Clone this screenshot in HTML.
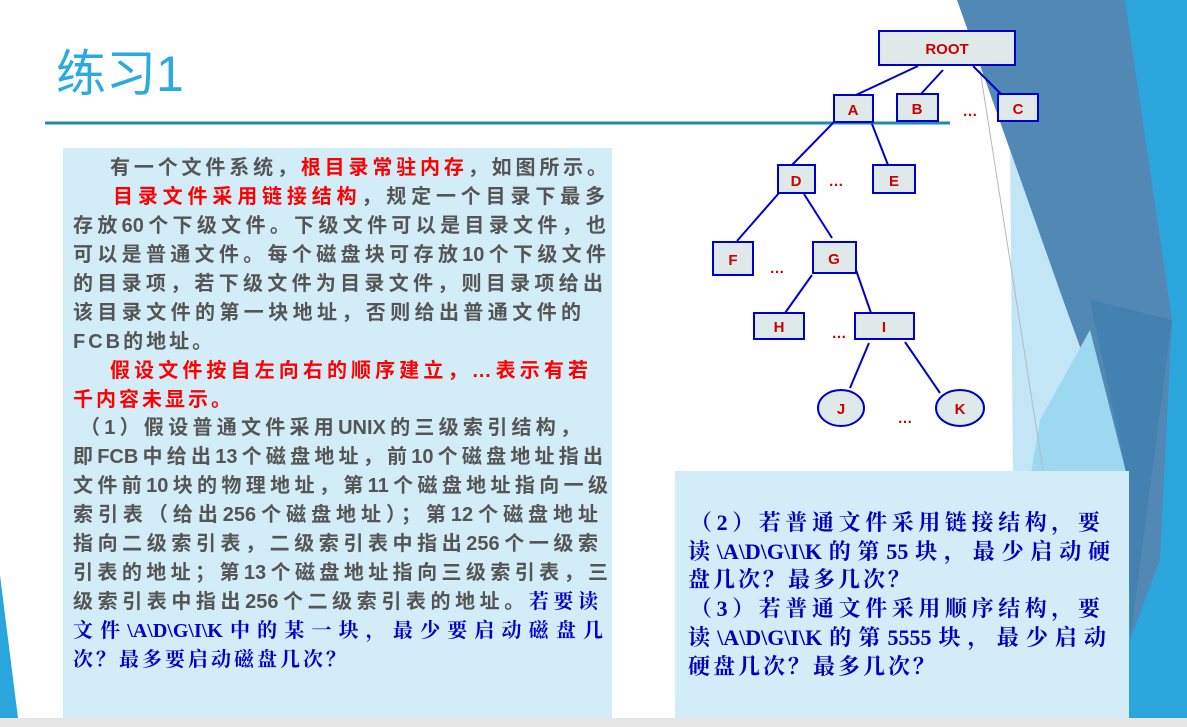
<!DOCTYPE html>
<html><head><meta charset="utf-8"><style>
body{margin:0;width:1187px;height:727px;overflow:hidden;background:#fff;position:relative;font-family:"Liberation Sans","Noto Sans CJK SC",sans-serif}
.abs{position:absolute}
.box{position:absolute;background:#d2edf8}
.ln{position:absolute;white-space:nowrap;font-size:20px;font-weight:bold;color:#555;height:29px;line-height:29px;letter-spacing:3px}
.j{text-align:justify;text-align-last:justify;letter-spacing:0}
.r{color:#f00}
.b{color:#0000d0;font-family:"Liberation Serif","Noto Serif CJK SC",serif}
.rb{position:absolute;white-space:nowrap;font-size:22px;font-weight:bold;color:#0000c0;font-family:"Liberation Serif","Noto Serif CJK SC",serif;line-height:29px;height:29px;text-align:justify;text-align-last:justify}
.nl{text-align-last:left;letter-spacing:3px}
</style></head><body>
<svg class="abs" style="left:0;top:0" width="1187" height="727">
<polygon points="1118,0 1187,0 1187,727 1129,727" fill="#2ba6dd"/>
<polygon points="957,0 1125,0 1172,320 1160,560 1130,640 1128,480 1063,300 1010,150" fill="#5188b4"/>
<polygon points="1090,300 1172,320 1130,640 1128,480" fill="#4381b0"/>
<polygon points="1010,150 1063,300 1128,480 1013,480" fill="#c3e6f6"/>
<polygon points="1040,420 1090,330 1128,480 1030,480" fill="#9dd8f1"/>
<line x1="980" y1="70" x2="1043" y2="470" stroke="#b8b8b8" stroke-width="1"/>
<polygon points="0,575 18,718 0,718" fill="#2ba6dd"/>
<rect x="0" y="718" width="1187" height="9" fill="#e6e6e6"/>
<line x1="45" y1="123" x2="950" y2="123" stroke="#1e88b8" stroke-width="3"/>
<g stroke="#0000cc" stroke-width="2" fill="none">
<line x1="918" y1="66" x2="856" y2="95"/><line x1="943" y1="70" x2="920" y2="95"/><line x1="973" y1="66" x2="1003" y2="96"/>
<line x1="834" y1="122" x2="792" y2="165"/><line x1="872" y1="124" x2="888" y2="165"/>
<line x1="779" y1="193" x2="737" y2="241"/><line x1="804" y1="194" x2="832" y2="238"/>
<line x1="812" y1="275" x2="785" y2="313"/><line x1="856" y1="270" x2="871" y2="313"/>
<line x1="869" y1="343" x2="850" y2="388"/><line x1="905" y1="342" x2="940" y2="393"/>
</g>
<g stroke="#0000cc" stroke-width="2" fill="#dfe9ea">
<rect x="879" y="31" width="136" height="34"/>
<rect x="834" y="95" width="39" height="27"/><rect x="897" y="94" width="41" height="27"/><rect x="998" y="94" width="40" height="27"/>
<rect x="778" y="165" width="37" height="28"/><rect x="873" y="165" width="42" height="28"/>
<rect x="713" y="242" width="40" height="33"/><rect x="813" y="242" width="43" height="31"/>
<rect x="754" y="313" width="50" height="26"/><rect x="855" y="313" width="59" height="26"/>
<ellipse cx="841" cy="408" rx="23" ry="18"/><ellipse cx="960" cy="408" rx="24" ry="18"/>
</g>
<g fill="#cc0000" font-family="Liberation Sans,sans-serif" font-weight="bold" text-anchor="middle" font-size="15">
<text x="947" y="54">ROOT</text>
<text x="853" y="115">A</text><text x="917" y="114">B</text><text x="1018" y="114">C</text>
<text x="796" y="186">D</text><text x="894" y="186">E</text>
<text x="733" y="265">F</text><text x="834" y="264">G</text>
<text x="779" y="332">H</text><text x="884" y="332">I</text>
<text x="841" y="414">J</text><text x="960" y="414">K</text>
<text x="970" y="116">…</text><text x="836" y="186">…</text><text x="777" y="273">…</text><text x="839" y="338">…</text><text x="905" y="423">…</text>
</g>
</svg>
<div class="abs" style="left:56px;top:44px;font-size:50px;color:#29abe2;line-height:60px">练习1</div>
<div class="box" style="left:63px;top:148px;width:549px;height:570px"></div>
<div class="box" style="left:675px;top:471px;width:454px;height:247px"></div>
<div class="ln j" style="left:110px;top:154px;width:497px">有一个文件系统，<span class="r">根目录常驻内存</span>，如图所示。</div>
<div class="ln j" style="left:113px;top:183px;width:492px"><span class="r">目录文件采用链接结构</span>，规定一个目录下最多</div>
<div class="ln j" style="left:73px;top:212px;width:533px">存放60个下级文件。下级文件可以是目录文件，也</div>
<div class="ln j" style="left:73px;top:241px;width:533px">可以是普通文件。每个磁盘块可存放10个下级文件</div>
<div class="ln j" style="left:73px;top:270px;width:530px">的目录项，若下级文件为目录文件，则目录项给出</div>
<div class="ln j" style="left:73px;top:299px;width:508px">该目录文件的第一块地址，否则给出普通文件的</div>
<div class="ln" style="left:73px;top:328px">FCB的地址。</div>
<div class="ln j r" style="left:110px;top:357px;width:478px">假设文件按自左向右的顺序建立，…表示有若</div>
<div class="ln r" style="left:73px;top:386px">千内容未显示。</div>
<div class="ln j" style="left:80px;top:414px;width:500px">（1）假设普通文件采用UNIX的三级索引结构，</div>
<div class="ln j" style="left:73px;top:443px;width:530px">即FCB中给出13个磁盘地址，前10个磁盘地址指出</div>
<div class="ln j" style="left:73px;top:472px;width:535px">文件前10块的物理地址，第11个磁盘地址指向一级</div>
<div class="ln j" style="left:73px;top:501px;width:525px">索引表（给出256个磁盘地址）；第12个磁盘地址</div>
<div class="ln j" style="left:73px;top:530px;width:525px">指向二级索引表，二级索引表中指出256个一级索</div>
<div class="ln j" style="left:73px;top:559px;width:535px">引表的地址；第13个磁盘地址指向三级索引表，三</div>
<div class="ln j" style="left:73px;top:588px;width:525px">级索引表中指出256个二级索引表的地址。<span class="b">若要读</span></div>
<div class="ln j b" style="left:73px;top:617px;width:530px">文件\A\D\G\I\K中的某一块，最少要启动磁盘几</div>
<div class="ln b" style="left:73px;top:646px">次？最多要启动磁盘几次？</div>
<div class="rb" style="left:690px;top:508px;width:410px">（2）若普通文件采用链接结构，要</div>
<div class="rb" style="left:688px;top:537px;width:422px">读\A\D\G\I\K的第55块，最少启动硬</div>
<div class="rb nl" style="left:688px;top:565px">盘几次？最多几次？</div>
<div class="rb" style="left:690px;top:594px;width:410px">（3）若普通文件采用顺序结构，要</div>
<div class="rb" style="left:688px;top:623px;width:418px">读\A\D\G\I\K的第5555块，最少启动</div>
<div class="rb nl" style="left:688px;top:652px">硬盘几次？最多几次？</div>
</body></html>
